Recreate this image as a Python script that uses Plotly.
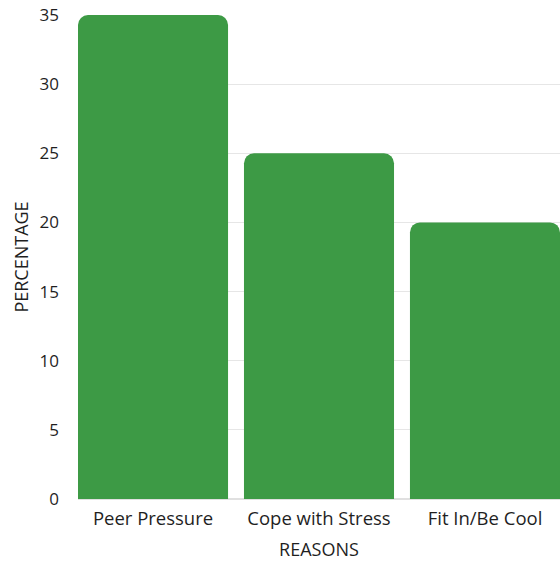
import plotly.graph_objects as go

categories = ["Peer Pressure", "Cope with Stress", "Fit In/Be Cool"]
values = [35, 25, 20]
y_ticks = [0, 5, 10, 15, 20, 25, 30, 35]

fig = go.Figure(go.Bar(x=categories, y=values, marker_color="#3d9a45", marker_line_width=0))
fig.update_layout(
    width=560, height=561,
    margin=dict(l=78, r=0, t=15, b=62),
    paper_bgcolor="white", plot_bgcolor="white",
    bargap=0.096, barcornerradius=10,
    font=dict(family="Open Sans", color="#1f1f1f", size=16),
    showlegend=False,
)
fig.update_xaxes(
    range=[-0.452, 2.452], showgrid=False, showline=False, ticks="",
    tickfont=dict(size=18.5), ticklabelstandoff=6,
    title=dict(text="REASONS", font=dict(size=18), standoff=14),
)
fig.update_yaxes(
    range=[0, 35], tickvals=y_ticks, showgrid=True, gridcolor="#e6e6e6", gridwidth=1,
    zeroline=True, zerolinecolor="#e0e0e0", showline=False, ticks="",
    tickfont=dict(size=17), ticklabelstandoff=18,
    title=dict(text="PERCENTAGE", font=dict(size=18), standoff=6),
)
fig.write_html("out.html", config={"displayModeBar": False})

with open("out.html", "r", encoding="utf-8") as f:
    html = f.read()
html = html.replace("<head>", "<head><style>html,body{margin:0;padding:0;}</style>", 1)
with open("out.html", "w", encoding="utf-8") as f:
    f.write(html)
